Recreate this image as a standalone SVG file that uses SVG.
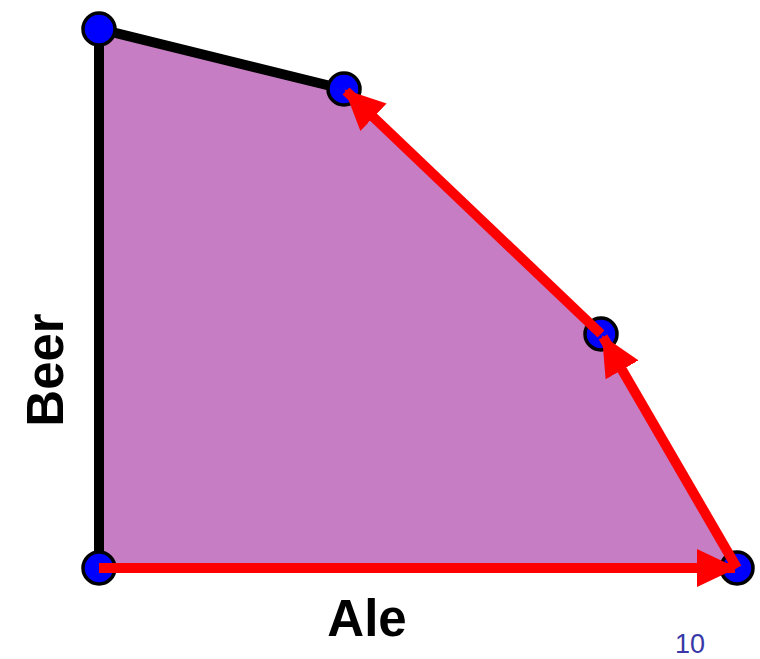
<svg xmlns="http://www.w3.org/2000/svg" width="760" height="659" viewBox="0 0 760 659">
<defs>
<style>
.edge{stroke:#000;stroke-width:10;fill:none}
.arrow{stroke:#FF0000;stroke-width:10;fill:none}
.vtx{fill:#0000FF;stroke:#000;stroke-width:3.5}
.lbl{font-family:"Liberation Sans",Arial,sans-serif;font-weight:bold;font-size:51px;fill:#000}
.pg{font-family:"Liberation Sans",Arial,sans-serif;font-size:27px;fill:#3838A8}
</style>
<marker id="ah" markerUnits="userSpaceOnUse" markerWidth="42" markerHeight="38" refX="38" refY="19" orient="auto" viewBox="0 0 42 38">
<path d="M0,0 L40,19 L0,38 Z" fill="#FF0000"/>
</marker>
</defs>
<rect width="760" height="659" fill="#fff"/>
<g id="region">
<polygon points="99,29 343,89 601,334 736,568 99,568" fill="#C77DC4"/>
</g>
<g id="edges">
<polyline class="edge" points="99,568 99,29 343,89"/>
</g>
<g id="v1"><circle class="vtx" cx="99" cy="29" r="16"/></g>
<g id="v2"><circle class="vtx" cx="344" cy="89" r="16"/></g>
<g id="v3"><circle class="vtx" cx="601" cy="334" r="16"/></g>
<g id="v4"><circle class="vtx" cx="737" cy="568" r="16"/></g>
<g id="v5"><circle class="vtx" cx="99" cy="568" r="16"/></g>
<g id="connectors">
<line class="arrow" x1="99" y1="568" x2="735" y2="568" marker-end="url(#ah)"/>
<line class="arrow" x1="737" y1="568" x2="603" y2="337" marker-end="url(#ah)"/>
<line class="arrow" x1="601" y1="334" x2="346" y2="91" marker-end="url(#ah)"/>
</g>
<text class="lbl" x="367" y="636" text-anchor="middle">Ale</text>
<text class="lbl" transform="translate(63,370) rotate(-90)" text-anchor="middle">Beer</text>
<text class="pg" x="690" y="653" text-anchor="middle">10</text>
</svg>
